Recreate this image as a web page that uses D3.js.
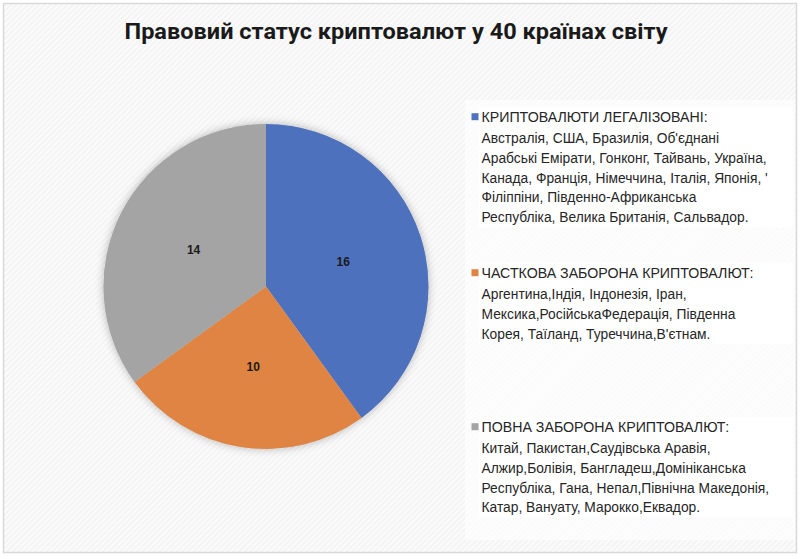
<!DOCTYPE html>
<html><head><meta charset="utf-8">
<script src="https://cdn.jsdelivr.net/npm/d3@7"></script>
<style>html,body{margin:0;padding:0;background:#fff}svg{display:block}</style>
</head><body>
<script>
const title = "Правовий статус криптовалют у 40 країнах світу";
const categories = ["Легалізовані", "Часткова заборона", "Повна заборона"];
const values = [16, 10, 14];
const colors = ["#4E71BE", "#DF8442", "#A4A4A4"];
const legendHeadings = ["КРИПТОВАЛЮТИ ЛЕГАЛІЗОВАНІ:", "ЧАСТКОВА ЗАБОРОНА КРИПТОВАЛЮТ:", "ПОВНА ЗАБОРОНА КРИПТОВАЛЮТ:"];
const legendLines = [
  ["Австралія, США, Бразилія, Об'єднані",
   "Арабські Емірати, Гонконг, Тайвань, Україна,",
   "Канада, Франція, Німеччина, Італія, Японія, '",
   "Філіппіни, Південно-Африканська",
   "Республіка, Велика Британія, Сальвадор."],
  ["Аргентина,Індія, Індонезія, Іран,",
   "Мексика,РосійськаФедерація, Південна",
   "Корея, Таїланд, Туреччина,В'єтнам."],
  ["Китай, Пакистан,Саудівська Аравія,",
   "Алжир,Болівія, Бангладеш,Домініканська",
   "Республіка, Гана, Непал,Північна Македонія,",
   "Катар, Вануату, Марокко,Еквадор."]
];

const W = 800, H = 559;
const svg = d3.select("body").append("svg").attr("width", W).attr("height", H);
const defs = svg.append("defs");
const pat = defs.append("pattern").attr("id", "hatch").attr("width", 4).attr("height", 4)
  .attr("patternUnits", "userSpaceOnUse").attr("patternTransform", "rotate(45)");
pat.append("rect").attr("width", 4).attr("height", 4).attr("fill", "#f4f4f4");
pat.append("rect").attr("width", 2).attr("height", 4).attr("fill", "#fbfbfb");
const flt = defs.append("filter").attr("id", "shadow").attr("x", "-20%").attr("y", "-20%").attr("width", "140%").attr("height", "140%");
flt.append("feDropShadow").attr("dx", 0).attr("dy", 0).attr("stdDeviation", 4)
  .attr("flood-color", "#000").attr("flood-opacity", 0.28);

svg.append("rect").attr("width", W).attr("height", H).attr("fill", "#fff");
svg.append("rect").attr("x", 3.5).attr("y", 3.5).attr("width", 793).attr("height", 549)
  .attr("fill", "url(#hatch)").attr("stroke", "#d9d9d9").attr("stroke-width", 1.5);

svg.append("text").attr("x", 396).attr("y", 31).attr("dy", "0.35em")
  .attr("text-anchor", "middle")
  .attr("font-family", "Roboto, 'Liberation Sans', sans-serif")
  .attr("font-weight", "bold").attr("font-size", 22).attr("fill", "#1a1a1a")
  .attr("textLength", 543).attr("lengthAdjust", "spacingAndGlyphs")
  .text(title);

// Pie
const cx = 266, cy = 286.5, R = 162.5;
const pie = d3.pie().sort(null).value(d => d)(values);
const arc = d3.arc().innerRadius(0).outerRadius(R);
const g = svg.append("g").attr("transform", `translate(${cx},${cy})`);
g.append("circle").attr("r", R).attr("fill", "#ccc").attr("filter", "url(#shadow)");
g.selectAll("path.slice").data(pie).join("path").attr("class", "slice")
  .attr("d", arc).attr("fill", (d, i) => colors[i]);
g.selectAll("text.lbl").data(pie).join("text").attr("class", "lbl")
  .attr("transform", d => `translate(${arc.centroid(d)})`)
  .attr("text-anchor", "middle").attr("dy", "0.35em")
  .attr("font-family", "'Liberation Sans', Arial, sans-serif")
  .attr("font-weight", "bold").attr("font-size", 12).attr("fill", "#1a1a1a")
  .text(d => d.data);

// Legend
svg.append("rect").attr("x", 465).attr("y", 100).attr("width", 330).attr("height", 440)
  .attr("fill", "#fff").attr("opacity", 0.6);
const blockY = [116.7, 272.7, 426.7];
const headGap = 21.5, lineGap = 19.8;
const lg = svg.append("g").attr("font-family", "'Liberation Sans', Arial, sans-serif")
  .attr("fill", "#262626");
legendHeadings.forEach((h, i) => {
  const y0 = blockY[i];
  const n = legendLines[i].length;
  lg.append("rect").attr("x", 479).attr("y", y0 - 10).attr("width", 314)
    .attr("height", headGap + (n - 1) * lineGap + 20).attr("fill", "#fff");
  lg.append("rect").attr("x", 471.5).attr("y", y0 - 3.5).attr("width", 7).attr("height", 7)
    .attr("fill", colors[i]);
  lg.append("text").attr("x", 481.5).attr("y", y0).attr("dy", "0.35em")
    .attr("font-size", 14.2).text(h);
  legendLines[i].forEach((t, j) => {
    lg.append("text").attr("x", 481.5).attr("y", y0 + headGap + j * lineGap)
      .attr("dy", "0.35em").attr("font-size", 13.8).text(t);
  });
});
</script>
</body></html>
